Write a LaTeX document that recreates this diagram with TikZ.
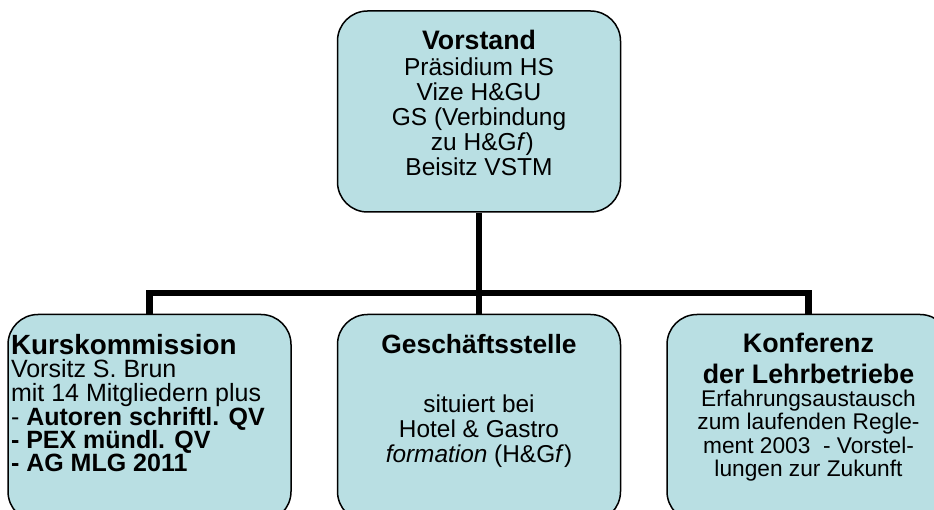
\documentclass[tikz,border=0pt]{standalone}
\usepackage{fontspec}
\setmainfont{Liberation Sans}
\usepackage{tikz}
\usetikzlibrary{positioning}
\definecolor{orgfill}{RGB}{185,223,227}
\newcommand{\hd}[1]{\fontsize{#1}{31}\selectfont\bfseries}
\newcommand{\bd}[2]{\fontsize{#1}{#2}\selectfont\mdseries}
\newcommand{\orgtext}[3]{\parbox[c][#1][t]{277pt}{\vspace*{#2}#3}}
\tikzset{
	orgbox/.style={draw, fill=orgfill, line width=1.5pt, rounded corners=30pt,
		inner sep=0pt, minimum width=283pt},
	orgline/.style={line width=6.5pt}
}

\begin{document}
\begin{tikzpicture}[x=1pt,y=1pt,node distance=101pt and 45pt]
  \useasboundingbox (0,0) rectangle (934,-510);
  \clip (0,0) rectangle (934,-510);
  \node [orgbox] (vorstand) at (479,-111.5) {\orgtext{201pt}{19pt}{\centering\hd{26.7}Vorstand\\[1.5pt]\bd{24.5}{25}Präsidium HS\\Vize H\&GU\\GS (Verbindung\\\ zu H\&G\textit{f})\\Beisitz VSTM}};
  \node [orgbox, below=of vorstand] (gs) {\orgtext{207pt}{19.5pt}{\centering\hd{26.4}Geschäftsstelle\\[34.5pt]\bd{24.4}{25}situiert bei\\Hotel \& Gastro\\\textit{formation} (H\&G\textit{f})}};
  \node [orgbox, left=of gs] (kk) {\orgtext{207pt}{20pt}{\raggedright\hd{27.8}Kurskommission\\[0pt]\bd{25}{23.2}Vorsitz S. Brun\\mit 14 Mitgliedern plus\\- \textbf{Autoren schriftl. QV}\\\textbf{- PEX mündl. QV}\\\textbf{- AG MLG 2011}}};
  \node [orgbox, right=of gs] (lb) {\orgtext{207pt}{19pt}{\centering\hd{26.8}Konferenz\\der Lehrbetriebe\\[-1pt]\bd{22.7}{23.5}Erfahrungsaustausch\\zum laufenden Regle-\\ment 2003 \ - Vorstel-\\lungen zur Zukunft}};
  \coordinate (bus) at (479,-293);
  \draw [orgline] (vorstand) -- (gs);
  \draw [orgline] (kk) |- (bus) -| (lb);
\end{tikzpicture}
\end{document}
